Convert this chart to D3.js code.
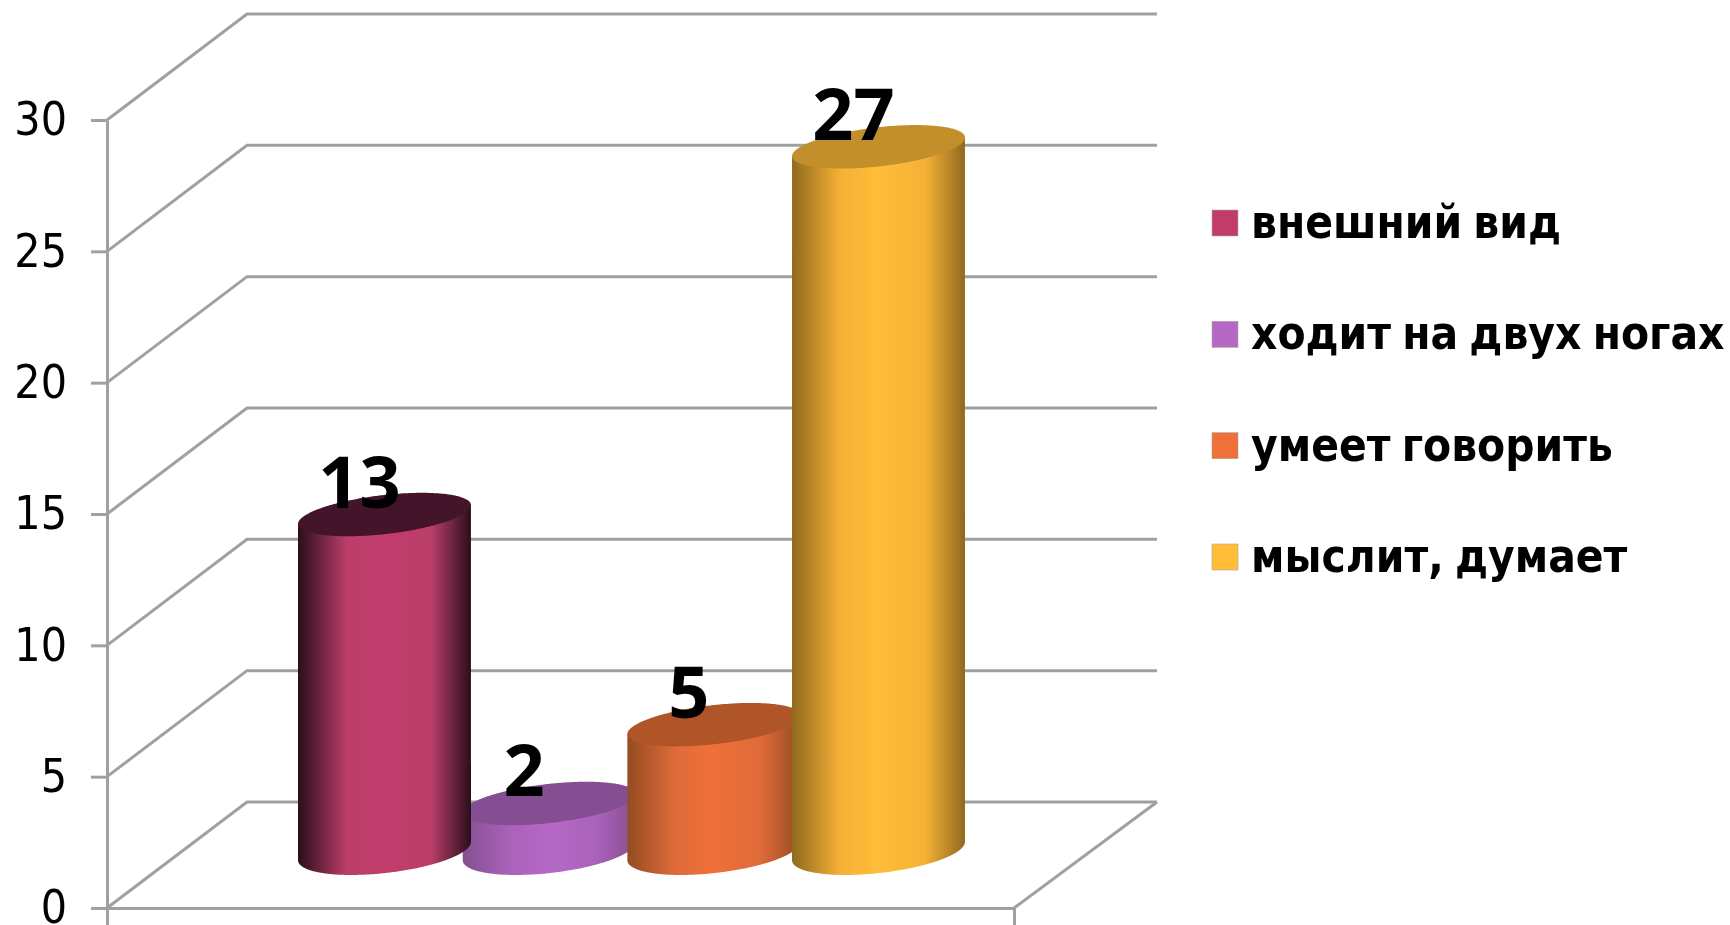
<!DOCTYPE html>
<html><head><meta charset="utf-8">
<script src="https://cdnjs.cloudflare.com/ajax/libs/d3/7.8.5/d3.min.js"></script>
<style>html,body{margin:0;padding:0;background:#fff;overflow:hidden}svg{display:block;filter:blur(0.6px)}</style>
</head><body><svg id="c" width="1730" height="925"></svg>
<script>
const categories = ["внешний вид","ходит на двух ногах","умеет говорить","мыслит, думает"];
const values = [13,2,5,27];
const tickValues = [0,5,10,15,20,25,30];
const baseColors = ["#c23c6b","#b569c5","#ef7038","#ffbd38"];
const edgeColors = ["#2a0e1c","#85508f","#944c22","#8f6a1e"];
const midColors = ["#ba3e69","#ab62bb","#e06b3a","#f5b136"];
const topColors = ["#43142a","#854e92","#b05528","#c38f2a"];
const drawOrder = [1,0,2,3];

const svg = d3.select("#c");
const W = {left:107,right:1014,floorY:908,topY:120,dx:140,dy:-106};
const y = d3.scaleLinear().domain([0,30]).range([W.floorY,W.topY]);
const xFrame = d3.scaleLinear().domain([0,1]).range([W.left,W.right]);
const x = d3.scalePoint().domain(categories).range([384.5,878.5]);
const GRID="#a0a0a0";

const g = svg.append("g").attr("fill","none").attr("stroke",GRID).attr("stroke-width",3);
tickValues.forEach(v=>{
  g.append("path").attr("d",d3.line()([[W.left,y(v)],[W.left+W.dx,y(v)+W.dy],[W.right+W.dx+3,y(v)+W.dy]]));
});
g.append("path").attr("d",d3.line()([[W.right,W.floorY],[W.right+W.dx+3,W.floorY+W.dy]]));

const ax = svg.append("g").attr("transform",`translate(${W.left},0)`)
  .call(d3.axisLeft(y).tickValues(tickValues).tickSize(16).tickSizeOuter(0).tickPadding(24));
ax.selectAll("path,line").attr("stroke",GRID).attr("stroke-width",3);
ax.selectAll("text").attr("font-family","'DejaVu Sans'").attr("font-stretch","condensed")
  .attr("font-size",46).attr("fill","#000").attr("dy","0.32em");
const bx = svg.append("g").attr("transform",`translate(0,${W.floorY})`)
  .call(d3.axisBottom(xFrame).tickValues([0,1]).tickSize(17).tickSizeOuter(0).tickFormat(""));
bx.selectAll("path,line").attr("stroke",GRID).attr("stroke-width",3);

const A=87, th=-6.5, rad=th*Math.PI/180;
const topB=19.5, botB=22;
const ring=d3.range(0,360).map(k=>k/360*2*Math.PI);
function outline(cx,cy,b){
  return ring.map(t=>{
    const u=A*Math.cos(t), v=b*Math.sin(t);
    return [cx+u*Math.cos(rad)-v*Math.sin(rad), cy+u*Math.sin(rad)+v*Math.cos(rad)];
  });
}
function bottomArc(pts){ // ordered from leftmost to rightmost through the lower side
  const iL=d3.scan(pts,(p,q)=>p[0]-q[0]), iR=d3.scan(pts,(p,q)=>q[0]-p[0]);
  const out=[]; for(let k=iL;k!==iR;k=(k+359)%360) out.push(pts[k]); out.push(pts[iR]);
  return {arc:out,left:pts[iL],right:pts[iR]};
}
const topBaseY=856, botBaseY=851;
const defs=svg.append("defs");
categories.forEach((c,i)=>{
  const gr=defs.append("linearGradient").attr("id","g"+i).attr("x1",0).attr("x2",1).attr("y1",0).attr("y2",0);
  [[0,edgeColors[i]],[.28,midColors[i]],[.5,baseColors[i]],[.77,midColors[i]],[1,edgeColors[i]]].forEach(s=>
    gr.append("stop").attr("offset",s[0]).attr("stop-color",s[1]));
});
const bars=svg.append("g");
drawOrder.forEach(i=>{
  const cx=x(categories[i]);
  const ty=topBaseY-(y(0)-y(values[i]));
  const topPts=outline(cx,ty,topB);
  const t=bottomArc(topPts), bt=bottomArc(outline(cx,botBaseY,botB));
  const body=[t.left,...bt.arc,t.right];
  bars.append("path").attr("fill",`url(#g${i})`).attr("d",d3.line()(body)+"Z");
  bars.append("path").attr("fill",topColors[i]).attr("d",d3.line()(topPts)+"Z");
  bars.append("text").attr("x",cx-25).attr("y",ty-7).attr("text-anchor","middle")
    .attr("font-family","'Open Sans'").attr("font-weight",700).attr("font-size",72).attr("fill","#000")
    .text(values[i]);
});

const rowY=d3.scalePoint().domain(categories).range([223,557]);
const lg=svg.append("g");
categories.forEach((c,i)=>{
  lg.append("rect").attr("x",1212).attr("y",rowY(c)-13).attr("width",26).attr("height",26)
    .attr("fill",baseColors[i]).attr("stroke","#b5a5a5").attr("stroke-width",.6);
  lg.append("text").attr("x",1251).attr("y",rowY(c)+15).attr("font-family","'DejaVu Sans'")
    .attr("font-stretch","condensed").attr("font-weight",700).attr("font-size",45.5).attr("word-spacing",-3).attr("fill","#000").text(c);
});
</script></body></html>
